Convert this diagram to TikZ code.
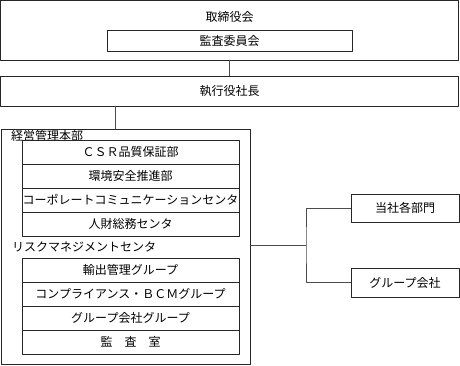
\documentclass[tikz,border=0pt]{standalone}
\usepackage{fontspec}
\setmainfont{Noto Sans CJK JP}
\usetikzlibrary{positioning}
\tikzset{
    box/.style={
        draw=black!85, line width=0.8pt, inner sep=0pt,
        font=\fontsize{12}{14}\selectfont
    },
    lab/.style={
        inner sep=0pt, font=\fontsize{12}{14}\selectfont
    },
    wire/.style={
        draw=black!70, line width=0.8pt
    }
}

\begin{document}
\begin{tikzpicture}[x=1pt,y=-1pt,line cap=round,line join=round]

% --- frame ---
    \useasboundingbox (0,0) rectangle (460,366);

% board of directors
    \node[box, minimum width=458pt, minimum height=60pt] (board) at (229.5,30) {};
    \node[lab] (boardtxt) at (229.5,17) {取締役会};
    \node[box, minimum width=245pt, minimum height=21.5pt] (audit) at (229.5,41) {監査委員会};

% president
    \node[box, minimum width=458pt, minimum height=30pt] (ceo) at (229.5,91) {執行役社長};

% management headquarters
    \node[box, minimum width=249.5pt, minimum height=235pt] (hq) at (125.75,246.5) {};
    \node[lab, anchor=west] (hqtxt) at (11,136) {経営管理本部};
    \foreach \name [count=\i] in {ＣＳＲ品質保証部, 環境安全推進部,
        コーポレートコミュニケーションセンタ, 人財総務センタ}
        \node[box, minimum width=217pt, minimum height=24pt] (mg\i) at (130.5,128+24*\i) {\name};

% risk management center
    \node[lab, anchor=west] (risktxt) at (12,247) {リスクマネジメントセンタ};
    \foreach \name [count=\i] in {輸出管理グループ, コンプライアンス・ＢＣＭグループ,
        グループ会社グループ, 監　査　室}
        \node[box, minimum width=217pt, minimum height=24pt] (rk\i) at (130.5,246+24*\i) {\name};

% targets
    \node[box, minimum width=108pt, minimum height=28pt] (dept) at (405,208) {当社各部門};
    \node[box, minimum width=108pt, minimum height=29pt] (grp) at (405,282.5) {グループ会社};

% connectors
    \coordinate (hqtap) at (115,129);
    \coordinate (fork) at (306,245);
    \draw[wire] (board.south) -- (ceo.north);
    \draw[wire] (ceo.south -| hqtap) -- (hqtap);
    \draw[wire] (hq.east |- fork) -- (fork);
    \draw[wire] (dept.west) -| (fork) |- (grp.west);

\end{tikzpicture}
\end{document}
